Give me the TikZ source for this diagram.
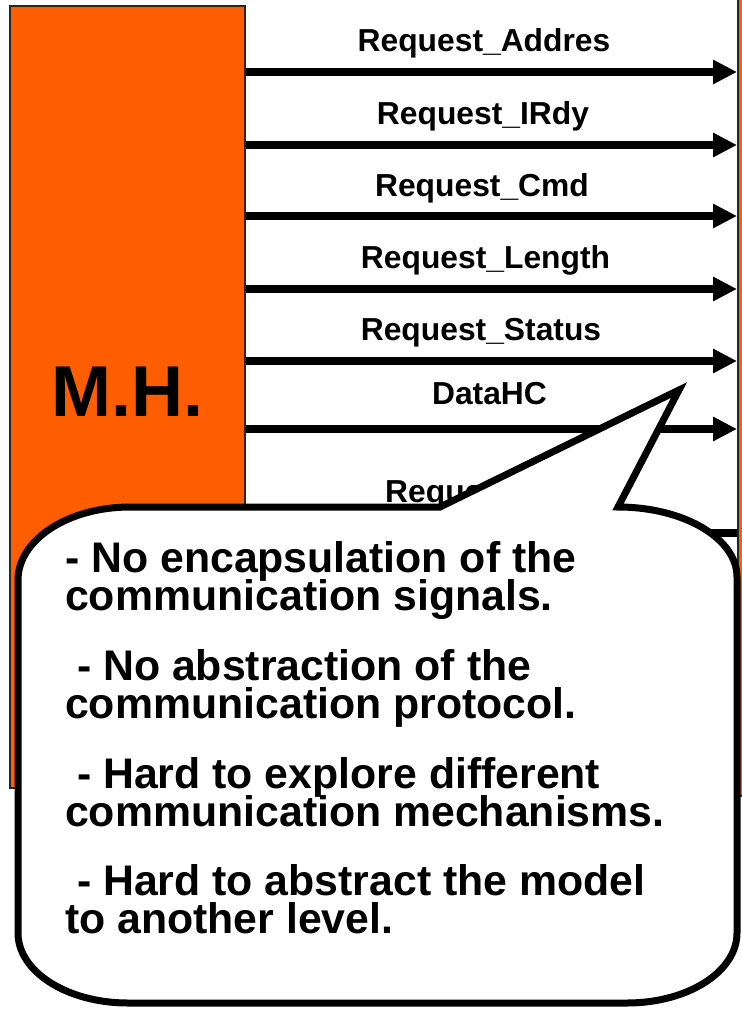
\documentclass[tikz,border=0pt]{standalone}
\usepackage{fontspec}
\setmainfont{Liberation Sans}
\usepackage{tikz}
\usetikzlibrary{arrows.meta}
\definecolor{mhorange}{RGB}{255,94,0}
\newcommand{\notefont}{\fontsize{42.8}{38}\selectfont\bfseries\setlength{\lineskiplimit}{-40pt}}
\tikzset{block/.style={draw=black!85, line width=2pt, fill=mhorange, inner sep=0pt},
  wire/.style={line width=7.5pt},
  sig/.style={wire, -{Triangle[length=24pt, width=23pt]}},
  siglabel/.style={anchor=base, inner sep=0pt, font=\fontsize{31.8}{38}\selectfont\bfseries},
  note/.style={anchor=base west, inner sep=0pt, align=left, font=\notefont}}
\newcommand{\signal}[4]{\draw[sig] (mh.east |- 0,#2) -- (dev.west |- 0,#2); \node[siglabel] (#1) at (#3) {#4};}

\begin{document}
\begin{tikzpicture}[x=1pt, y=-1pt]
\useasboundingbox (0,0) rectangle (742,1013);
\node[block, minimum width=235pt, minimum height=782pt] (mh) at (127.5,397) {};
\node[block, anchor=north west, minimum width=40pt, minimum height=800pt] (dev) at (737,-5) {};
\node[font=\fontsize{72}{72}\selectfont\bfseries] (mhname) at (127.5,392) {M.H.};
\signal{addr}{72}{484,51}{Request\_Addres}
\signal{irdy}{145}{483,124}{Request\_IRdy}
\signal{cmd}{216}{482,196}{Request\_Cmd}
\signal{len}{289}{485.5,268}{Request\_Length}
\signal{stat}{361}{481,340}{Request\_Status}
\signal{data}{429}{489.5,404}{DataHC}
\draw[wire] (mh.east |- 0,533) -- (dev.west |- 0,533);
\node[siglabel, anchor=base west] (req) at (385,502) {Request};
% speech bubble
\draw[line width=7pt, fill=white, line join=miter] (440,507) -- (679,390) -- (618,507)
  .. controls (683.7,507) and (737,538.3) .. (737,577) -- (737,933)
  .. controls (737,971.7) and (687.8,1003) .. (627,1003) -- (128,1003)
  .. controls (67.2,1003) and (18,971.7) .. (18,933) -- (18,580)
  .. controls (18,539.7) and (68.1,507) .. (130,507) -- cycle;
% anchored on the second line's baseline
\node[note] (enc) at (65,610) {- No encapsulation of the\\communication signals.};
\node[note] (abs) at (65,718) {\ - No abstraction of the\\communication protocol.};
\node[note] (expl) at (65,826) {\ - Hard to explore different\\communication mechanisms.};
\node[note] (lvl) at (65,933) {\ - Hard to abstract the model\\to another level.};
\end{tikzpicture}
\end{document}
